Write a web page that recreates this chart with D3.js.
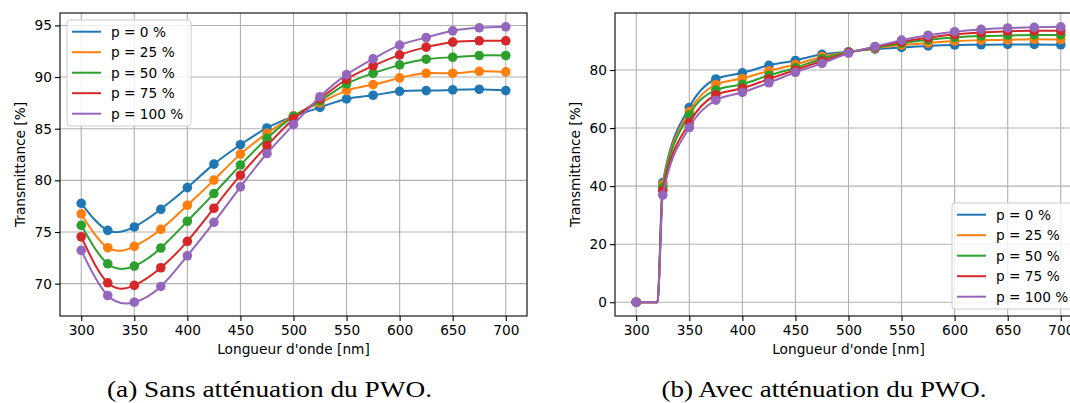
<!DOCTYPE html>
<html><head><meta charset="utf-8">
<script src="https://cdn.jsdelivr.net/npm/d3@7"></script>
<style>body{margin:0;background:#fff}svg{display:block}</style>
</head><body>
<svg id="c" width="1070" height="403"></svg>
<script>
// ---------- data ----------
const wavelengths = [300,325,350,375,400,425,450,475,500,525,550,575,600,625,650,675,700];
const seriesLabels = ["p = 0 %","p = 25 %","p = 50 %","p = 75 %","p = 100 %"];
const seriesColors = ["#1f77b4","#ff7f0e","#2ca02c","#d62728","#9467bd"];

// (a) Sans atténuation du PWO
const sansP0   = [77.78,75.16,75.49,77.20,79.30,81.57,83.45,85.07,86.20,87.07,87.88,88.24,88.62,88.69,88.76,88.82,88.69];
const sansP25  = [76.75,73.48,73.61,75.26,77.59,80.02,82.54,84.55,86.25,87.50,88.69,89.27,89.92,90.37,90.37,90.56,90.50];
const sansP50  = [75.65,71.92,71.70,73.45,76.04,78.72,81.48,84.06,86.20,87.70,89.34,90.37,91.18,91.73,91.92,92.09,92.09];
const sansP75  = [74.54,70.08,69.83,71.54,74.10,77.30,80.50,83.35,85.95,87.90,89.79,91.09,92.15,92.90,93.38,93.51,93.51];
const sansP100 = [73.22,68.85,68.20,69.73,72.70,75.94,79.37,82.60,85.40,88.10,90.24,91.76,93.09,93.83,94.48,94.77,94.87];

// (b) Avec atténuation du PWO
const avecP0   = [0,41.2,67.1,76.9,79.0,81.6,83.3,85.4,86.3,87.2,87.8,88.3,88.6,88.7,88.8,88.8,88.7];
const avecP25  = [0,40.5,65.6,75.0,77.1,79.7,81.9,84.6,86.2,87.5,88.6,89.3,90.0,90.3,90.4,90.6,90.5];
const avecP50  = [0,39.6,64.5,73.1,75.1,78.2,80.8,83.9,86.1,87.7,89.2,90.4,91.2,91.7,91.9,92.1,92.1];
const avecP75  = [0,38.4,61.8,71.4,73.7,76.9,80.0,83.1,86.0,87.9,89.7,91.1,92.2,92.9,93.4,93.5,93.5];
const avecP100 = [0,36.9,60.2,69.6,72.3,75.6,79.2,82.3,85.8,88.1,90.3,92.0,93.2,94.0,94.5,94.7,94.9];
// absorption edge: transmittance stays at 0 up to this wavelength
const edgeNm = 320;

const xTicks = [300,350,400,450,500,550,600,650,700];
const yTicksA = [70,75,80,85,90,95];
const yTicksB = [0,20,40,60,80];
const xLabel = "Longueur d'onde [nm]";
const yLabel = "Transmittance [%]";
const captionA = "(a) Sans atténuation du PWO.";
const captionB = "(b) Avec atténuation du PWO.";

// ---------- drawing ----------
const svg = d3.select("#c");
const FONT = "DejaVu Sans, sans-serif";
const FS = 13.7;

function pad(ext){ const r = ext[1]-ext[0]; return [ext[0]-0.05*r, ext[1]+0.05*r]; }

function panel(cfg){
  const {left, top, width, height, series, yTicks, curveFn, withEdge, legend, ylabX} = cfg;
  const g = svg.append("g");
  const x = d3.scaleLinear().domain(pad(d3.extent(wavelengths))).range([left, left+width]);
  const allY = series.flat();
  const y = d3.scaleLinear().domain(pad(d3.extent(allY))).range([top+height, top]);

  // grid
  g.append("g").selectAll("line").data(xTicks).join("line")
    .attr("x1", d=>x(d)).attr("x2", d=>x(d)).attr("y1", top).attr("y2", top+height)
    .attr("stroke","#b0b0b0").attr("stroke-width",1.1);
  g.append("g").selectAll("line").data(yTicks).join("line")
    .attr("y1", d=>y(d)).attr("y2", d=>y(d)).attr("x1", left).attr("x2", left+width)
    .attr("stroke","#b0b0b0").attr("stroke-width",1.1);

  // clip
  const cid = "clip"+left;
  svg.append("clipPath").attr("id",cid).append("rect")
    .attr("x",left).attr("y",top).attr("width",width).attr("height",height);
  const pg = g.append("g").attr("clip-path",`url(#${cid})`);

  series.forEach((vals,i)=>{
    let pts = wavelengths.map((w,j)=>[w, vals[j]]);
    if (withEdge) pts = [pts[0], [edgeNm, vals[0]], ...pts.slice(1)];
    const line = d3.line().x(d=>x(d[0])).y(d=>y(d[1])).curve(curveFn);
    pg.append("g").selectAll("circle").data(wavelengths.map((w,j)=>[w,vals[j]])).join("circle")
      .attr("cx", d=>x(d[0])).attr("cy", d=>y(d[1])).attr("r",4.8)
      .attr("fill", seriesColors[i]);
    pg.append("path").attr("d", line(pts)).attr("fill","none")
      .attr("stroke", seriesColors[i]).attr("stroke-width",2);
  });

  // axes
  const xa = g.append("g").attr("transform",`translate(0,${top+height})`)
    .call(d3.axisBottom(x).tickValues(xTicks).tickSize(5).tickPadding(4).tickFormat(d3.format("d")));
  const ya = g.append("g").attr("transform",`translate(${left},0)`)
    .call(d3.axisLeft(y).tickValues(yTicks).tickSize(5).tickPadding(3).tickFormat(d3.format("d")));
  [xa,ya].forEach(a=>{
    a.select(".domain").remove();
    a.selectAll("line").attr("stroke","#000").attr("stroke-width",1.1);
    a.selectAll("text").attr("font-family",FONT).attr("font-size",FS).attr("fill","#000");
  });
  // spines
  g.append("rect").attr("x",left).attr("y",top).attr("width",width).attr("height",height)
    .attr("fill","none").attr("stroke","#000").attr("stroke-width",1.1);

  // labels
  g.append("text").attr("x", left+width/2).attr("y", 354).attr("text-anchor","middle")
    .attr("font-family",FONT).attr("font-size",FS).text(xLabel);
  g.append("text").attr("transform",`translate(${ylabX},${top+height/2}) rotate(-90)`)
    .attr("text-anchor","middle").attr("dy","0.36em")
    .attr("font-family",FONT).attr("font-size",FS).text(yLabel);

  // legend
  const lg = g.append("g");
  lg.append("rect").attr("x",legend.x).attr("y",legend.y).attr("width",124).attr("height",106)
    .attr("rx",3).attr("fill","#fff").attr("fill-opacity",0.8).attr("stroke","#cccccc").attr("stroke-width",1);
  seriesLabels.forEach((lab,i)=>{
    const ry = legend.y + 11.7 + 20.5*i;
    lg.append("line").attr("x1",legend.x+5).attr("x2",legend.x+34).attr("y1",ry).attr("y2",ry)
      .attr("stroke",seriesColors[i]).attr("stroke-width",2);
    lg.append("text").attr("x",legend.x+44).attr("y",ry).attr("dy","0.36em")
      .attr("font-family",FONT).attr("font-size",FS).text(lab);
  });
}

panel({left:60, top:13, width:467, height:303,
  series:[sansP0,sansP25,sansP50,sansP75,sansP100], yTicks:yTicksA,
  curveFn:d3.curveNatural, withEdge:false, legend:{x:67,y:20}, ylabX:20});
panel({left:615, top:13, width:467, height:303,
  series:[avecP0,avecP25,avecP50,avecP75,avecP100], yTicks:yTicksB,
  curveFn:d3.curveMonotoneX, withEdge:true, legend:{x:952,y:203}, ylabX:575});

// captions
[[captionA,269.5],[captionB,824]].forEach(([t,cx])=>{
  svg.append("text").attr("x",cx).attr("y",397).attr("text-anchor","middle")
    .attr("font-family","Liberation Serif, serif").attr("font-size",24)
    .attr("textLength",325).attr("lengthAdjust","spacingAndGlyphs").text(t);
});
</script>
</body></html>
